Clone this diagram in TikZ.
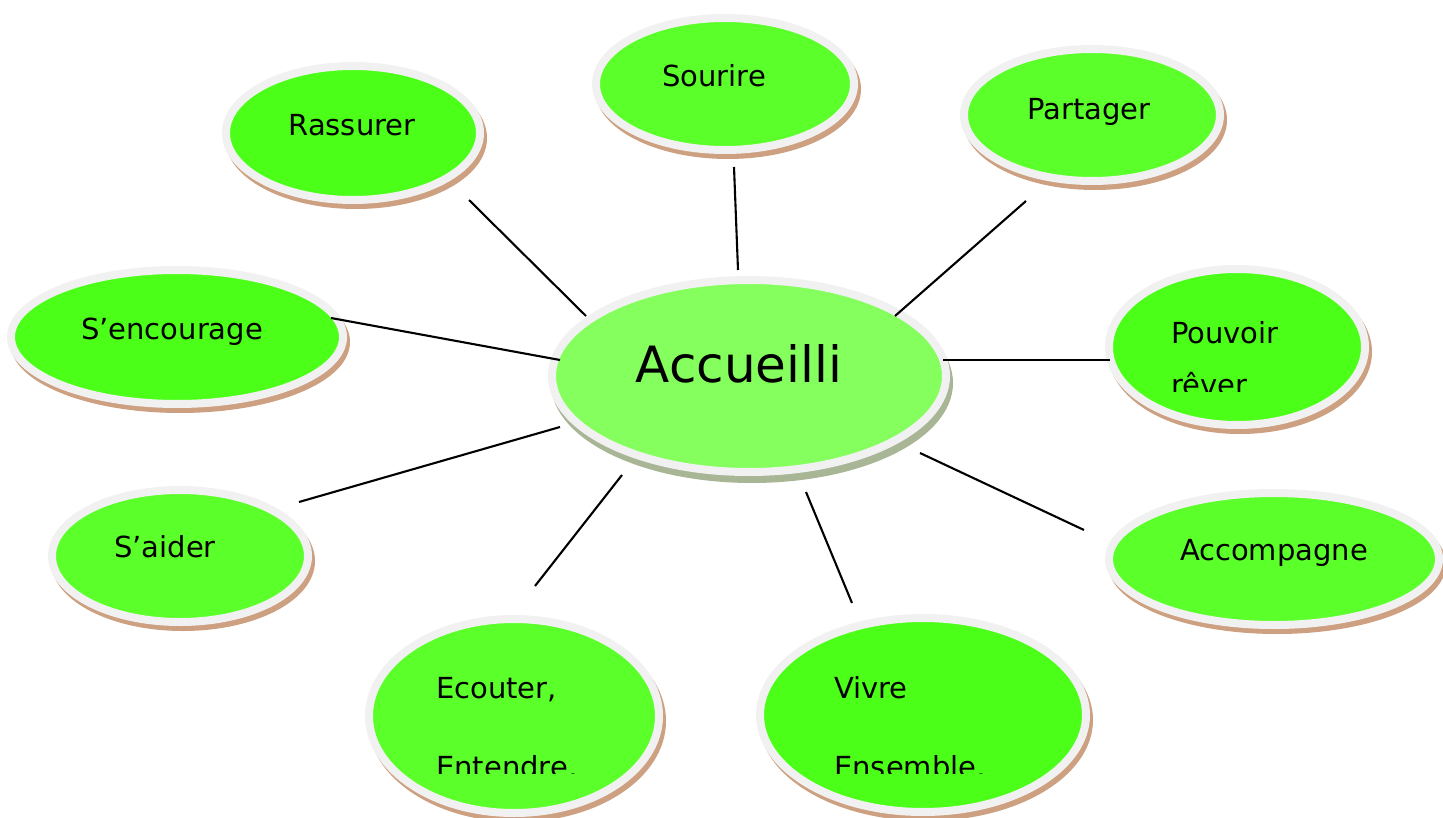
\documentclass[tikz,border=0pt]{standalone}
\usepackage{fontspec}
\setmainfont{DejaVu Sans}
\usetikzlibrary{shapes.geometric}
\definecolor{ringcol}{RGB}{241,241,241}
\definecolor{shadowbrown}{RGB}{204,160,128}
\definecolor{shadowgray}{RGB}{168,182,150}
\definecolor{greenA}{RGB}{91,255,42}
\definecolor{greenB}{RGB}{76,255,25}
\definecolor{greenC}{RGB}{133,255,94}
\tikzset{
  bubble/.style={ellipse, draw=ringcol, line width=8pt, inner sep=0pt,
    preaction={fill=shadowbrown, draw=shadowbrown, line width=8pt,
      transform canvas={shift={(3pt,-5pt)}}}},
  centrebubble/.style={ellipse, draw=ringcol, line width=8pt, inner sep=0pt, fill=greenC,
    preaction={fill=shadowgray, draw=shadowgray, line width=8pt,
      transform canvas={shift={(3pt,-7pt)}}}},
  lbl/.style={inner sep=0pt, font=\fontsize{29}{35}\selectfont},
  conn/.style={draw=black, line width=2.1pt}
}
\begin{document}
\begin{tikzpicture}[x=1pt,y=-1pt]
\useasboundingbox (0,0) rectangle (1443,818);
% bubbles
\node[bubble, fill=greenB, minimum width=254, minimum height=134] (rassurer) at (353,133) {};
\node[bubble, fill=greenA, minimum width=258, minimum height=132] (sourire) at (725,84) {};
\node[bubble, fill=greenA, minimum width=256, minimum height=132] (partager) at (1092,115) {};
\node[bubble, fill=greenB, minimum width=332, minimum height=134] (encourage) at (177,337) {};
\node[bubble, fill=greenB, minimum width=256, minimum height=156] (pouvoir) at (1237,347) {};
\node[bubble, fill=greenA, minimum width=256, minimum height=132] (aider) at (180,556) {};
\node[bubble, fill=greenA, minimum width=330, minimum height=132] (accomp) at (1274,559) {};
\node[bubble, fill=greenA, minimum width=290, minimum height=194] (ecouter) at (514,716) {};
\node[bubble, fill=greenB, minimum width=326, minimum height=194] (vivre) at (923,715) {};
\node[centrebubble, minimum width=394, minimum height=192] (accueil) at (749,376) {};
% labels
\node[lbl, anchor=base] (tRassurer) at (352,136) {Rassurer};
\node[lbl, anchor=base] (tSourire) at (714,87) {Sourire};
\node[lbl, anchor=base] (tPartager) at (1089,120) {Partager};
\node[lbl, anchor=base] (tEncourage) at (172,340) {S’encourage};
\node[lbl, anchor=base] (tAider) at (165,557) {S’aider};
\node[lbl, anchor=base] (tAccomp) at (1274,560) {Accompagne};
\node[inner sep=0pt, anchor=base, font=\fontsize{50}{60}\selectfont] (tAccueil) at (739,382) {Accueilli};
\node[lbl, anchor=base west] (tPouvoir) at (1171,344) {Pouvoir};
\begin{scope}
\clip (1100,250) rectangle (1380,391);
\node[lbl, anchor=base west] (tRever) at (1171,395) {rêver};
\end{scope}
\node[lbl, anchor=base west] (tEcouter) at (436,698) {Ecouter,};
\node[lbl, anchor=base west] (tVivre) at (834,698) {Vivre};
\begin{scope}
\clip (360,600) rectangle (1100,773);
\node[lbl, anchor=base west] (tEntendre) at (436,777) {Entendre,};
\node[lbl, anchor=base west] (tEnsemble) at (834,777) {Ensemble,};
\end{scope}
% connector end points
\coordinate (cRa) at (469,200); \coordinate (cRb) at (586,316);
\coordinate (cSa) at (734,167); \coordinate (cSb) at (738,270);
\coordinate (cPa) at (1026,201); \coordinate (cPb) at (895,316);
\coordinate (cEa) at (331,318); \coordinate (cEb) at (560,360);
\coordinate (cVa) at (943,360); \coordinate (cVb) at (1110,360);
\coordinate (cAa) at (299,502); \coordinate (cAb) at (560,427);
\coordinate (cCa) at (622,475); \coordinate (cCb) at (535,586);
\coordinate (cLa) at (806,492); \coordinate (cLb) at (852,603);
\coordinate (cMa) at (920,453); \coordinate (cMb) at (1084,530);
\draw[conn] (cRa) -- (cRb);
\draw[conn] (cSa) -- (cSb);
\draw[conn] (cPa) -- (cPb);
\draw[conn] (cEa) -- (cEb);
\draw[conn] (cVa) -- (cVb);
\draw[conn] (cAa) -- (cAb);
\draw[conn] (cCa) -- (cCb);
\draw[conn] (cLa) -- (cLb);
\draw[conn] (cMa) -- (cMb);
\end{tikzpicture}
\end{document}
